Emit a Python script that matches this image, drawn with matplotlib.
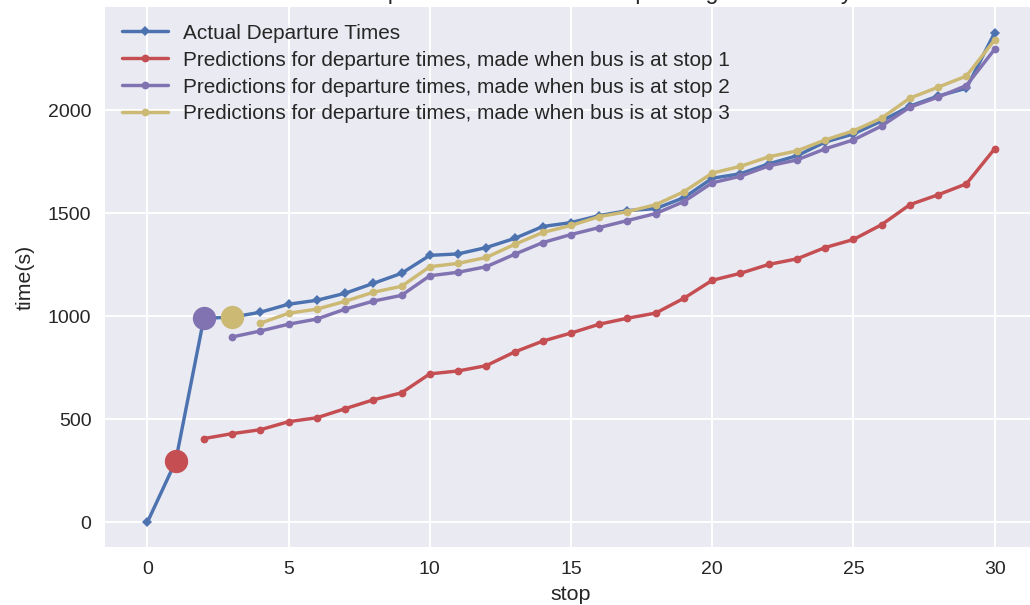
import matplotlib
matplotlib.use("Agg")
import matplotlib.pyplot as plt

plt.style.use("seaborn-v0_8")
plt.rcParams["font.family"] = ["Liberation Sans", "DejaVu Sans"]

# ---- data ----
stops_actual = list(range(0, 31))
actual = [0, 295, 990, 995, 1019, 1058, 1077, 1111, 1159, 1208, 1295, 1302, 1333,
          1377, 1435, 1454, 1488, 1512, 1522, 1575, 1669, 1691, 1739, 1778, 1845,
          1884, 1947, 2019, 2068, 2106, 2375]

stops_pred1 = list(range(2, 31))
pred1 = [406, 430, 449, 488, 507, 551, 594, 628, 720, 734, 760, 826, 879, 918,
         961, 990, 1015, 1087, 1174, 1208, 1251, 1278, 1333, 1372, 1444, 1541,
         1589, 1642, 1812]

stops_pred2 = list(range(3, 31))
pred2 = [899, 928, 961, 986, 1034, 1073, 1101, 1196, 1213, 1240, 1300, 1357,
         1396, 1430, 1464, 1498, 1556, 1647, 1679, 1729, 1758, 1812, 1855, 1923,
         2014, 2063, 2119, 2295]

stops_pred3 = list(range(4, 31))
pred3 = [966, 1014, 1034, 1072, 1116, 1145, 1240, 1256, 1285, 1348, 1406, 1440,
         1483, 1507, 1541, 1604, 1694, 1727, 1773, 1802, 1855, 1899, 1961, 2058,
         2111, 2165, 2340]

labels = ["Actual Departure Times",
          "Predictions for departure times, made when bus is at stop 1",
          "Predictions for departure times, made when bus is at stop 2",
          "Predictions for departure times, made when bus is at stop 3"]
title = "Actual departure times for bus depending on the delay"

c_blue, c_red, c_purple, c_yellow = "#4C72B0", "#C44E52", "#8172B2", "#CCB974"

fig = plt.figure(figsize=(1030 / 140, 605 / 140), dpi=140)
ax = fig.add_axes([105 / 1030, 58 / 605, (1037 - 105) / 1030, (547 - 7) / 605])

ax.plot(stops_actual, actual, color=c_blue, marker="D", markersize=3.5, label=labels[0])
ax.plot(stops_pred1, pred1, color=c_red, marker="o", markersize=4, label=labels[1])
ax.plot(stops_pred2, pred2, color=c_purple, marker="o", markersize=4, label=labels[2])
ax.plot(stops_pred3, pred3, color=c_yellow, marker="o", markersize=4, label=labels[3])

# big markers showing where the bus was when each prediction was made
for s, c in zip([1, 2, 3], [c_red, c_purple, c_yellow]):
    ax.plot(stops_actual[s], actual[s], marker="o", markersize=12, color=c, linestyle="none")

ax.set_xlim(-1.5, 31.5)
ax.set_ylim(-120, 2500)
ax.set_xticks([0, 5, 10, 15, 20, 25, 30])
ax.set_yticks([0, 500, 1000, 1500, 2000])
ax.set_xlabel("stop")
ax.set_ylabel("time(s)", labelpad=7)
ax.set_title(title, fontsize=12, pad=4)
ax.legend(loc="upper left", fontsize=10.65, labelspacing=0.385,
          handlelength=2.23, handletextpad=0.73, borderaxespad=0.4)

fig.savefig("out.png", dpi=140)
